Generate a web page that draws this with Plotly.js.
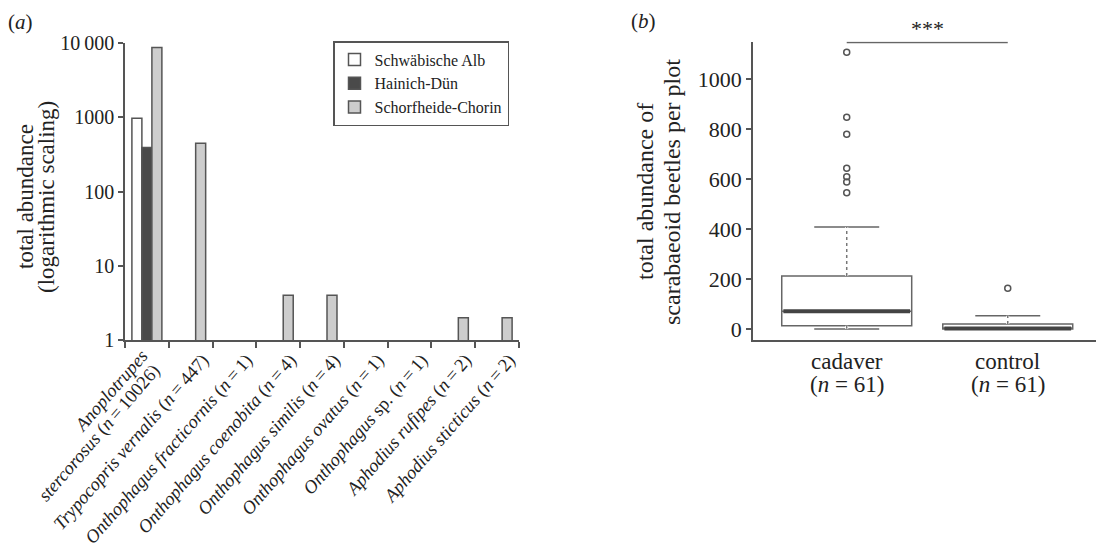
<!DOCTYPE html>
<html><head><meta charset="utf-8">
<script src="https://cdn.plot.ly/plotly-3.0.1.min.js"></script>
<style>
html,body{margin:0;padding:0;background:#fff}
#chart{width:1096px;height:553px}
</style>
</head><body><div id="chart"></div>
<script>
// ---- panel (a) data ----
const speciesKeys = ['Anoplotrupes stercorosus', 'Trypocopris vernalis', 'Onthophagus fracticornis',
  'Onthophagus coenobita', 'Onthophagus similis', 'Onthophagus ovatus', 'Onthophagus sp.',
  'Aphodius rufipes', 'Aphodius sticticus'];
const speciesLabels = [
  '<i>Anoplotrupes</i><br><i>stercorosus</i> (<i>n</i>\u2009=\u200910026)',
  '<i>Trypocopris vernalis</i> (<i>n</i>\u2009=\u2009447)',
  '<i>Onthophagus fracticornis</i> (<i>n</i>\u2009=\u20091)',
  '<i>Onthophagus coenobita</i> (<i>n</i>\u2009=\u20094)',
  '<i>Onthophagus similis</i> (<i>n</i>\u2009=\u20094)',
  '<i>Onthophagus ovatus</i> (<i>n</i>\u2009=\u20091)',
  '<i>Onthophagus</i> sp. (<i>n</i>\u2009=\u20091)',
  '<i>Aphodius rufipes</i> (<i>n</i>\u2009=\u20092)',
  '<i>Aphodius sticticus</i> (<i>n</i>\u2009=\u20092)'
];
const schwaebischeAlb   = [970, null, null, null, null, null, null, null, null];
const hainichDuen       = [390, null, null, null, null, null, null, null, null];
const schorfheideChorin = [8666, 447, null, 4, 4, null, null, 2, 2];
const logTickVals = [1, 10, 100, 1000, 10000];
const logTickText = ['1', '10', '100', '1000', '10\u2009000'];

// ---- panel (b) data ----
const groups = ['cadaver', 'control'];
const groupN = [61, 61];
const groupPos = [0, 1];
const q1 = [13, 0];
const median = [71, 2];
const q3 = [212, 20];
const lowerFence = [0, 0];
const upperFence = [408, 53];
const outliers = [[1107, 847, 779, 643, 609, 588, 545], [163]];
const boxTicks = [0, 200, 400, 600, 800, 1000];

const FONT = 'Liberation Serif';
const AX = '#555';
const TXT = '#222';
const BOXW = 0.807;
const f = (size) => ({family: FONT, size: size, color: TXT});

const barLine = {color: AX, width: 1.5};
const traces = [
  {type: 'bar', name: 'Schwäbische Alb', x: speciesKeys, y: schwaebischeAlb,
   marker: {color: '#ffffff', line: barLine}, xaxis: 'x', yaxis: 'y'},
  {type: 'bar', name: 'Hainich-Dün', x: speciesKeys, y: hainichDuen,
   marker: {color: '#4a4a4a', line: barLine}, xaxis: 'x', yaxis: 'y'},
  {type: 'bar', name: 'Schorfheide-Chorin', x: speciesKeys, y: schorfheideChorin,
   marker: {color: '#cdcdcd', line: barLine}, xaxis: 'x', yaxis: 'y'},
  {type: 'box', x: groupPos, q1: q1, median: median, q3: q3,
   lowerfence: lowerFence, upperfence: upperFence, width: BOXW, whiskerwidth: 0.5,
   boxpoints: false, fillcolor: '#ffffff', line: {color: '#666', width: 1.5},
   showlegend: false, hoverinfo: 'skip', xaxis: 'x2', yaxis: 'y2'}
];
groupPos.forEach((p, i) => {
  [[q3[i], upperFence[i]], [q1[i], lowerFence[i]]].forEach(seg => {
    traces.push({type: 'scatter', mode: 'lines', x: [p, p], y: seg,
      line: {color: '#ffffff', width: 3}, showlegend: false, hoverinfo: 'skip', xaxis: 'x2', yaxis: 'y2'});
    traces.push({type: 'scatter', mode: 'lines', x: [p, p], y: seg,
      line: {color: '#777', width: 1.5, dash: 'dot'}, showlegend: false, hoverinfo: 'skip', xaxis: 'x2', yaxis: 'y2'});
  });
  traces.push({type: 'scatter', mode: 'lines', x: [p - BOXW / 2 + 0.01, p + BOXW / 2 - 0.01], y: [median[i], median[i]],
    line: {color: '#444', width: 4}, showlegend: false, hoverinfo: 'skip', xaxis: 'x2', yaxis: 'y2'});
  traces.push({type: 'scatter', mode: 'markers', x: outliers[i].map(() => p), y: outliers[i],
    marker: {symbol: 'circle-open', size: 6, color: '#555', line: {width: 1.5}},
    showlegend: false, hoverinfo: 'skip', xaxis: 'x2', yaxis: 'y2'});
});

const W = 1096, H = 553;
const px = v => v / W, py = v => (H - v) / H;
const TICKANGLE = -49;
const TICKFONT = 18.5;

// first category label has two lines; draw it as two rotated lines so they do not collide
const firstLines = speciesLabels[0].split('<br>');
const tickText = speciesLabels.map((s, i) => i === 0 ? '' : s);

const annotations = [
  {text: '(<i>a</i>)', xref: 'paper', yref: 'paper', x: px(6), y: py(22), xanchor: 'left', yanchor: 'middle', showarrow: false, font: f(21)},
  {text: '(<i>b</i>)', xref: 'paper', yref: 'paper', x: px(629), y: py(21), xanchor: 'left', yanchor: 'middle', showarrow: false, font: f(21)},
  {text: 'total abundance', xref: 'paper', yref: 'paper', x: px(25), y: py(197), xanchor: 'center', yanchor: 'middle', textangle: -90, showarrow: false, font: f(23)},
  {text: '(logarithmic scaling)', xref: 'paper', yref: 'paper', x: px(46), y: py(197), xanchor: 'center', yanchor: 'middle', textangle: -90, showarrow: false, font: f(23)},
  {text: 'total abundance of', xref: 'paper', yref: 'paper', x: px(645), y: py(192), xanchor: 'center', yanchor: 'middle', textangle: -90, showarrow: false, font: f(24)},
  {text: 'scarabaeoid beetles per plot', xref: 'paper', yref: 'paper', x: px(672), y: py(192), xanchor: 'center', yanchor: 'middle', textangle: -90, showarrow: false, font: f(24)},
  {text: '***', xref: 'x2', yref: 'y2', x: (groupPos[0] + groupPos[1]) / 2, y: 1146, xanchor: 'center', yanchor: 'bottom', showarrow: false, font: f(22)},
  {text: firstLines[0], xref: 'paper', yref: 'paper', x: px(111), y: py(391), xanchor: 'center', yanchor: 'middle', textangle: TICKANGLE, showarrow: false, font: f(TICKFONT)},
  {text: firstLines[1], xref: 'paper', yref: 'paper', x: px(99), y: py(433), xanchor: 'center', yanchor: 'middle', textangle: TICKANGLE, showarrow: false, font: f(TICKFONT)}
];
groups.forEach((g, i) => {
  annotations.push({text: g, xref: 'x2', yref: 'paper', x: groupPos[i], y: py(361), xanchor: 'center', yanchor: 'middle', showarrow: false, font: f(23)});
  annotations.push({text: '(<i>n</i> = ' + groupN[i] + ')', xref: 'x2', yref: 'paper', x: groupPos[i], y: py(384), xanchor: 'center', yanchor: 'middle', showarrow: false, font: f(23)});
});

const layout = {
  width: W, height: H,
  margin: {l: 0, r: 0, t: 0, b: 0},
  paper_bgcolor: '#fff', plot_bgcolor: '#fff',
  font: f(19),
  barmode: 'group', bargap: 0.315, bargroupgap: 0,
  showlegend: true,
  legend: {x: px(333), y: py(41), xanchor: 'left', yanchor: 'top', bordercolor: AX, borderwidth: 1.5,
           bgcolor: '#fff', font: f(16), tracegroupgap: 0},
  xaxis: {domain: [px(125), px(519)], anchor: 'y', type: 'category', tickson: 'boundaries',
          categoryorder: 'array', categoryarray: speciesKeys,
          tickmode: 'array', tickvals: speciesKeys, ticktext: tickText, ticklabelshift: 12,
          ticks: 'outside', ticklen: 6, tickwidth: 1.5, tickcolor: AX, showline: true, linecolor: AX, linewidth: 1.5,
          showgrid: false, tickangle: TICKANGLE, tickfont: f(TICKFONT)},
  yaxis: {domain: [py(340), py(43)], anchor: 'x', type: 'log', range: [0, 4],
          tickvals: logTickVals, ticktext: logTickText, ticks: 'outside', ticklen: 5, tickwidth: 1.5, tickcolor: AX,
          showline: true, linecolor: AX, linewidth: 1.5, showgrid: false, zeroline: false, tickfont: f(20)},
  xaxis2: {domain: [px(753), 1], anchor: 'y2', range: [-0.582, 1.548], showticklabels: false, ticks: '',
           showline: true, linecolor: AX, linewidth: 1.5, showgrid: false, zeroline: false},
  yaxis2: {domain: [py(340), py(41.5)], anchor: 'x2', range: [-44, 1150], tickvals: boxTicks,
           ticks: 'outside', ticklen: 5, tickwidth: 1.5, tickcolor: AX, showline: true, linecolor: AX, linewidth: 1.5,
           showgrid: false, zeroline: false, tickfont: f(22)},
  shapes: [{type: 'line', xref: 'x2', yref: 'y2', x0: groupPos[0], x1: groupPos[1], y0: 1146, y1: 1146,
            line: {color: '#666', width: 1.5}}],
  annotations: annotations
};

Plotly.newPlot('chart', traces, layout, {displayModeBar: false});
</script>
</body></html>
